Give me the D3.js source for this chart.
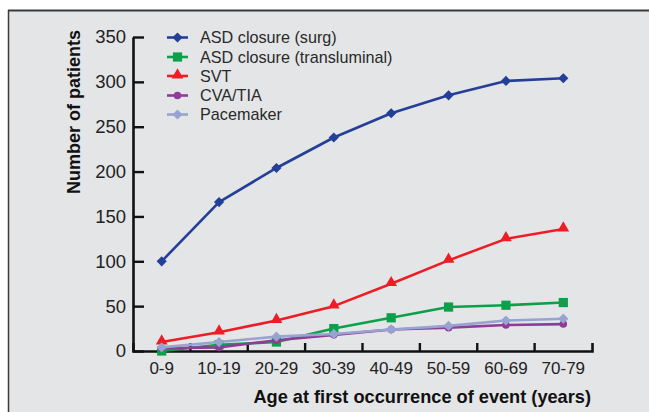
<!DOCTYPE html>
<html><head><meta charset="utf-8">
<script src="https://cdn.jsdelivr.net/npm/d3@7"></script>
<style>
html,body{margin:0;padding:0;background:#fff;}
svg{display:block;}
</style></head>
<body>
<script>
const categories = ["0-9","10-19","20-29","30-39","40-49","50-59","60-69","70-79"];
const asdSurg = [100,166,204,238,265,285,301,304];
const asdTrans = [0,7,10,25,37,49,51,54];
const svt = [10,21,34,50,75,101,125,136];
const cvaTia = [3,4,12,18,24,26,29,30];
const pacemaker = [4,10,16,19,24,28,34,36];
const seriesNames = ["ASD closure (surg)","ASD closure (transluminal)","SVT","CVA/TIA","Pacemaker"];
const yTicks = [0,50,100,150,200,250,300,350];

const seriesList = [
  {name: seriesNames[0], values: asdSurg, color: "#243f98", marker: "diamond"},
  {name: seriesNames[1], values: asdTrans, color: "#0ba04a", marker: "square"},
  {name: seriesNames[2], values: svt, color: "#ee1c25", marker: "triangle"},
  {name: seriesNames[3], values: cvaTia, color: "#8f3b97", marker: "circle"},
  {name: seriesNames[4], values: pacemaker, color: "#97a3d0", marker: "diamond"}
];

const W = 649, H = 412;
const svg = d3.select("body").append("svg").attr("width", W).attr("height", H);

// panel
svg.append("rect").attr("x", 8).attr("y", 10).attr("width", W - 8).attr("height", H - 10).attr("fill", "#e4e5e7");
svg.append("line").attr("x1", 8).attr("x2", W).attr("y1", 10.5).attr("y2", 10.5).attr("stroke", "#3a3a3a").attr("stroke-width", 2);
svg.append("line").attr("x1", 8.5).attr("x2", 8.5).attr("y1", 10).attr("y2", H).attr("stroke", "#3a3a3a").attr("stroke-width", 1.5);

const x = d3.scaleBand().domain(categories).range([133, 592]).paddingInner(0).paddingOuter(0);
const y = d3.scaleLinear().domain([0, 350]).range([351, 37]);
const cx = c => x(c) + x.bandwidth() / 2;

const font = "'Liberation Sans', Arial, sans-serif";

// y axis
const yAxis = svg.append("g").attr("transform", "translate(133,0)")
  .call(d3.axisLeft(y).tickValues(yTicks).tickSizeInner(-11).tickSizeOuter(0).tickPadding(7));
yAxis.select(".domain").attr("stroke", "#111").attr("stroke-width", 2.6);
yAxis.selectAll(".tick line").attr("stroke", "#111").attr("stroke-width", 2.4);
yAxis.selectAll(".tick text").attr("font-family", font).attr("font-size", 18.5).attr("fill", "#222");

// x axis
const xAxis = svg.append("g").attr("transform", "translate(0,351)")
  .call(d3.axisBottom(x).tickSizeInner(0).tickSizeOuter(-8).tickPadding(11));
xAxis.select(".domain").attr("stroke", "#111").attr("stroke-width", 2.6);
xAxis.selectAll(".tick text").attr("font-family", font).attr("font-size", 17).attr("fill", "#222");
xAxis.selectAll(".bticks").data(categories.slice(0, -1)).enter().append("line")
  .attr("x1", d => x(d) + x.bandwidth()).attr("x2", d => x(d) + x.bandwidth())
  .attr("y1", 0).attr("y2", -8).attr("stroke", "#111").attr("stroke-width", 2.4);

// axis titles
svg.append("text").attr("transform", "translate(80,112) rotate(-90)")
  .attr("text-anchor", "middle").attr("font-family", font).attr("font-weight", "bold")
  .attr("font-size", 18).attr("fill", "#111").text("Number of patients");
svg.append("text").attr("x", 591).attr("y", 403).attr("text-anchor", "end")
  .attr("font-family", font).attr("font-weight", "bold").attr("font-size", 18.2)
  .attr("fill", "#111").text("Age at first occurrence of event (years)");

function drawMarker(g, type, color, px, py) {
  if (type === "diamond") {
    g.append("path").attr("d", d3.symbol(d3.symbolSquare, 52)()).attr("transform", `translate(${px},${py}) rotate(45)`).attr("fill", color);
  } else if (type === "square") {
    g.append("path").attr("d", d3.symbol(d3.symbolSquare, 85)()).attr("transform", `translate(${px},${py})`).attr("fill", color);
  } else if (type === "triangle") {
    g.append("path").attr("d", d3.symbol(d3.symbolTriangle, 60)()).attr("transform", `translate(${px},${py - 1})`).attr("fill", color);
  } else {
    g.append("path").attr("d", d3.symbol(d3.symbolCircle, 45)()).attr("transform", `translate(${px},${py})`).attr("fill", color);
  }
}

const line = d3.line().x((d, i) => cx(categories[i])).y(d => y(d));
const plot = svg.append("g");
seriesList.forEach(s => {
  const g = plot.append("g");
  g.append("path").attr("d", line(s.values)).attr("fill", "none").attr("stroke", s.color).attr("stroke-width", 2.6).attr("stroke-linejoin", "round");
  s.values.forEach((v, i) => drawMarker(g, s.marker, s.color, cx(categories[i]), y(v)));
});

// legend
const legendY = [37.5, 57, 76, 95.5, 114.5];
seriesList.forEach((s, i) => {
  const g = svg.append("g");
  g.append("line").attr("x1", 167).attr("x2", 188).attr("y1", legendY[i]).attr("y2", legendY[i]).attr("stroke", s.color).attr("stroke-width", 2.6);
  drawMarker(g, s.marker, s.color, 177.5, legendY[i]);
  g.append("text").attr("x", 200).attr("y", legendY[i]).attr("dy", "0.36em")
    .attr("font-family", font).attr("font-size", 16.2).attr("fill", "#2a2a2a").text(s.name);
});
</script>
</body></html>
